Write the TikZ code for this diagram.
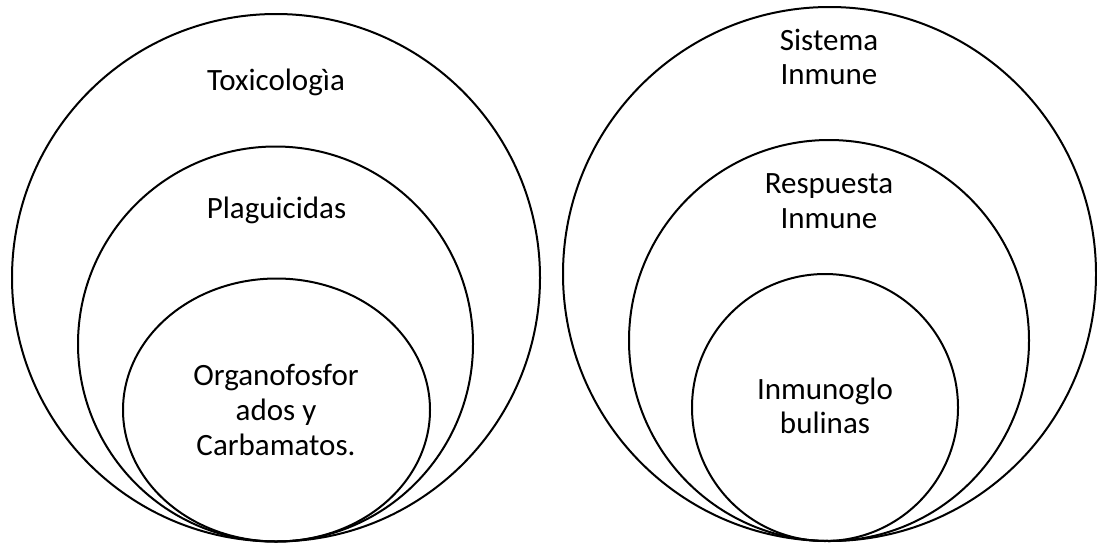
\documentclass[tikz,border=0pt]{standalone}
\usepackage{fontspec}
\setmainfont{Carlito}
\begin{document}
\begin{tikzpicture}[x=1pt,y=-1pt,
  ring/.style={draw=black,line width=2pt},
  lbl/.style={anchor=base,inner sep=0pt,font=\fontsize{31}{37}\selectfont}]
\useasboundingbox[fill=white] (0,0) rectangle (1097,544);
% left group
\draw[ring] (276,277.75) ellipse [x radius=264,y radius=263.75];
\draw[ring] (275.5,344) ellipse [x radius=197.5,y radius=197.5];
\draw[ring] (276.5,410) ellipse [x radius=153.5,y radius=131.5];
% right group
\draw[ring] (829.5,274) ellipse [x radius=266.5,y radius=267];
\draw[ring] (829,340.5) ellipse [x radius=200,y radius=200.5];
\draw[ring] (825,407.5) ellipse [x radius=133,y radius=133.5];
% labels
\node[lbl] (tox) at (276,90) {Toxicologìa};
\node[lbl] (plag) at (276.5,218) {Plaguicidas};
\node[lbl] (org1) at (276,385) {Organofosfor};
\node[lbl] (org2) at (276,420) {ados y};
\node[lbl] (org3) at (276,455) {Carbamatos.};
\node[lbl] (sis1) at (829,50) {Sistema};
\node[lbl] (sis2) at (829,84) {Inmune};
\node[lbl] (res1) at (829,193) {Respuesta};
\node[lbl] (res2) at (829,228) {Inmune};
\node[lbl] (inm1) at (825,399) {Inmunoglo};
\node[lbl] (inm2) at (825,433) {bulinas};
\end{tikzpicture}
\end{document}
